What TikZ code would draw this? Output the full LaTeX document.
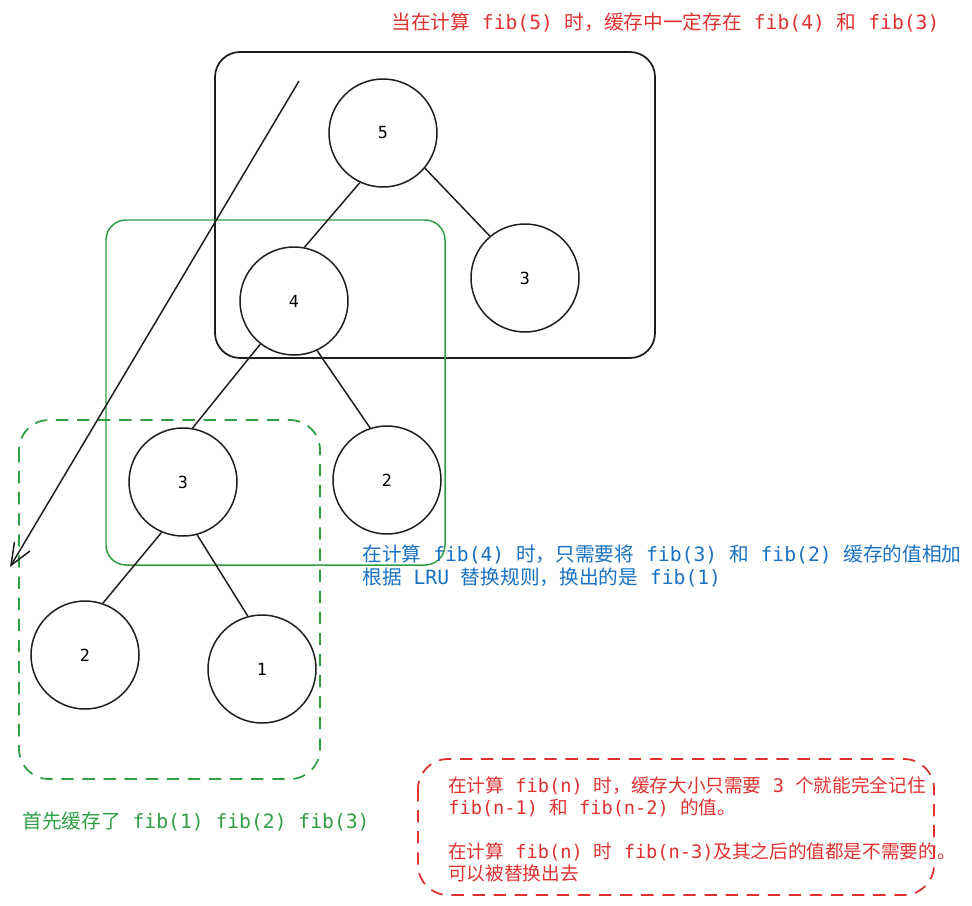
\documentclass[tikz,border=0pt]{standalone}
\usepackage{fontspec}
\setmainfont{DejaVu Sans Mono}
\newfontfamily\cjk{Noto Sans CJK SC}
\usepackage{tikz}
\usetikzlibrary{arrows.meta}
\usetikzlibrary{calc}

\definecolor{inkblack}{HTML}{1E1E1E}
\definecolor{inkred}{HTML}{E03131}
\definecolor{inkblue}{HTML}{1971C2}
\definecolor{inkgreen}{HTML}{2F9E44}

\begin{document}
\begin{tikzpicture}[>={Straight Barb[length=4.4mm,width=3.6mm]},
	fibnode/.style={draw=inkblack,line width=0.85pt,circle,minimum size=2.16cm,inner sep=0pt,font=\fontsize{9.5}{10}\selectfont},
	treeline/.style={draw=inkblack,line width=0.85pt},
	note/.style={inner sep=0pt,anchor=west,align=left,font=\fontsize{11.2}{12.8}\selectfont},
	cachebox/.style={line width=1pt,dash pattern=on 7pt off 5pt}]
			\useasboundingbox(0,0)rectangle(19.44,-18.1);
			% boxes
			\draw[inkblack,line width=1pt,rounded corners=0.5cm](4.3,-1.04)rectangle(13.1,-7.16);
			\draw[inkgreen,line width=0.85pt,rounded corners=0.4cm](2.12,-4.4)rectangle(8.9,-11.3);
			\draw[inkgreen,cachebox,rounded corners=0.6cm](0.38,-8.4)rectangle(6.4,-15.58);
			\draw[inkred,cachebox,rounded corners=0.6cm](8.36,-15.18)rectangle(18.68,-17.9);
			% tree
			\node[fibnode](F5)at(7.66,-2.66){5};
			\node[fibnode](F3r)at(10.5,-5.56){3};
			\node[fibnode](F4)at(5.88,-6.02){4};
			\node[fibnode](F3)at(3.66,-9.64){3};
			\node[fibnode](F2r)at(7.74,-9.6){2};
			\node[fibnode](F2)at(1.7,-13.1){2};
			\node[fibnode](F1)at(5.24,-13.38){1};
			\draw[treeline](F5.245)--(F4.79);
			\draw[treeline](F5.320)--(F3r.130);
			\draw[treeline](F4.232)--(F3.80);
			\draw[treeline](F4.295)--(F2r.108);
			\draw[treeline](F3.247)--(F2.71);
			\draw[treeline](F3.285)--(F1.105);
			% arrow
			\coordinate(S)at(5.98,-1.62);
			\coordinate(E)at(0.2,-11.34);
			\draw[->,inkblack,line width=0.85pt](S)--(E);
			% notes
			\node[note,text=inkred](top)at(7.82,-0.44){{\cjk 当在计算} fib(5) {\cjk 时，缓存中一定存在} fib(4) {\cjk 和} fib(3)};
			\node[note,text=inkblue](mid)at(7.24,-11.32){{\cjk 在计算} fib(4) {\cjk 时，只需要将} fib(3) {\cjk 和} fib(2) {\cjk 缓存的值相加}\\{\cjk 根据} LRU {\cjk 替换规则，换出的是} fib(1)};
			\node[note,text=inkgreen](first)at(0.44,-16.42){{\cjk 首先缓存了} fib(1) fib(2) fib(3)};
			\node[note,text=inkred,font=\fontsize{10.6}{12.5}\selectfont](rule)at(8.96,-16.58){{\cjk 在计算} fib(n) {\cjk 时，缓存大小只需要} 3 {\cjk 个就能完全记住}\\fib(n-1) {\cjk 和} fib(n-2) {\cjk 的值。}\\[12.5pt]{\cjk 在计算} fib(n) {\cjk 时} fib(n-3){\cjk 及其之后的值都是不需要的。}\\{\cjk 可以被替换出去}};
		\end{tikzpicture}
\end{document}
